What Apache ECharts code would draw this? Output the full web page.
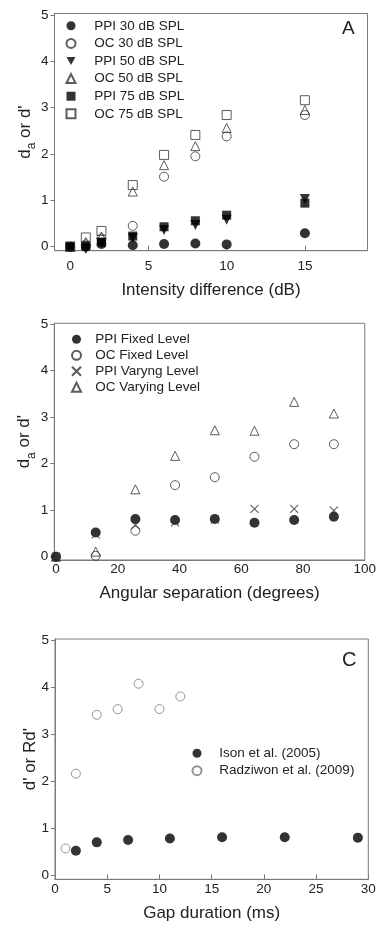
<!DOCTYPE html>
<html>
<head>
<meta charset="utf-8">
<script src="https://cdn.jsdelivr.net/npm/echarts@6/dist/echarts.min.js"></script>
<style>
  html, body { margin: 0; padding: 0; background: #fff; }
  #chart { width: 379px; height: 935px; }
</style>
</head>
<body>
<div id="chart"></div>
<script>
// panel A - intensity difference
const intensityDb = [0, 1, 2, 4, 6, 8, 10, 15];
const ppi30 = [0, 0.0, 0.06, 0.03, 0.06, 0.07, 0.05, 0.29];
const oc30 = [0, 0.05, 0.18, 0.45, 1.51, 1.95, 2.38, 2.84];
const ppi50 = [0, -0.05, 0.08, 0.19, 0.36, 0.47, 0.58, 1.03];
const oc50 = [0, 0.1, 0.22, 1.19, 1.76, 2.17, 2.56, 2.95];
const ppi75 = [0, 0.02, 0.1, 0.23, 0.43, 0.56, 0.68, 0.94];
const oc75 = [0, 0.2, 0.34, 1.33, 1.98, 2.41, 2.84, 3.16];

// panel B - angular separation
const angleDeg = [0, 12.86, 25.71, 38.57, 51.43, 64.29, 77.14, 90];
const ppiFixed = [0, 0.52, 0.81, 0.79, 0.81, 0.73, 0.79, 0.86];
const ocFixed = [0, 0.02, 0.56, 1.54, 1.71, 2.15, 2.42, 2.42];
const ppiVarying = [0, 0.48, 0.68, 0.74, 0.8, 1.03, 1.03, 0.99];
const ocVarying = [0, 0.11, 1.45, 2.17, 2.72, 2.71, 3.33, 3.08];

// panel C - gap duration
const gapIson = [2, 4, 7, 11, 16, 22, 29];
const isonD = [0.52, 0.70, 0.75, 0.78, 0.81, 0.81, 0.80];
const gapRadz = [1, 2, 4, 6, 8, 10, 12];
const radzD = [0.57, 2.16, 3.41, 3.53, 4.07, 3.53, 3.80];

const yTicks = [0, 1, 2, 3, 4, 5];
const ticksA = [0, 5, 10, 15];
const ticksB = [0, 20, 40, 60, 80, 100];
const ticksC = [0, 5, 10, 15, 20, 25, 30];

const FONT = 'Liberation Sans, Arial, sans-serif';
const INK = '#222';
const DOT = '#000';
const FRAME = '#7a7a7a';
const OPEN = '#333';

const pairs = (xs, ys) => xs.map((x, i) => [x, ys[i]]);
const CROSS = 'path://M0,0L10,10M10,0L0,10';
const DOWN_TRI = 'path://M0,0L10,0L5,9Z';

function xAx(grid, min, max, ticks, name, margin, gap, tickLen) {
  return {
    type: 'value', gridIndex: grid, min: min, max: max,
    name: name, nameLocation: 'middle', nameGap: gap,
    nameTextStyle: { fontFamily: FONT, fontSize: 17, color: INK },
    axisLine: { onZero: false, lineStyle: { color: FRAME, width: 1 } },
    axisTick: { show: tickLen > 0, inside: true, length: tickLen, customValues: ticks,
      lineStyle: { color: FRAME } },
    axisLabel: { customValues: ticks, margin: margin, fontFamily: FONT, fontSize: 13.5, color: INK },
    splitLine: { show: false }
  };
}

function yAx(grid, min, max, name, gap) {
  return {
    type: 'value', gridIndex: grid, min: min, max: max,
    name: name, nameLocation: 'middle', nameGap: gap, nameRotate: 90,
    nameMoveOverlap: false,
    nameTextStyle: {
      fontFamily: FONT, fontSize: 17, color: INK,
      rich: {
        d: { fontFamily: FONT, fontSize: 17, lineHeight: 17, color: INK, verticalAlign: 'top' },
        s: { fontFamily: FONT, fontSize: 12, lineHeight: 21, color: INK, verticalAlign: 'bottom' }
      }
    },
    axisLine: { onZero: false, lineStyle: { color: FRAME, width: 1 } },
    axisTick: { show: true, inside: false, length: 4, customValues: yTicks, lineStyle: { color: FRAME } },
    axisLabel: { customValues: yTicks, margin: 6, fontFamily: FONT, fontSize: 13.5, color: INK },
    splitLine: { show: false }
  };
}

function pts(name, xi, yi, data, symbol, size, filled, extra) {
  const s = {
    type: 'scatter', name: name, xAxisIndex: xi, yAxisIndex: yi,
    data: data, symbol: symbol, symbolSize: size,
    itemStyle: filled
      ? { color: DOT, borderWidth: 0 }
      : { color: 'rgba(0,0,0,0)', borderColor: OPEN, borderWidth: 1 },
    emphasis: { disabled: true },
    z: 3
  };
  return Object.assign(s, extra || {});
}

// icon centre cx, text starting at tx
function legend(names, cx, top, tx, rowH) {
  const icon = 9;
  const left = cx - icon / 2;
  return {
    data: names, orient: 'vertical', left: left, top: top, padding: 0,
    itemWidth: icon, itemHeight: icon, itemGap: 0,
    selectedMode: false,
    textStyle: { fontFamily: FONT, fontSize: 13.5, color: INK, lineHeight: rowH,
      padding: [0, 0, 0, tx - (left + icon + 5)] }
  };
}

const chart = echarts.init(document.getElementById('chart'), null, { renderer: 'canvas' });

chart.setOption({
  animation: false,
  backgroundColor: '#fff',
  grid: [
    { left: 54.5, top: 13.5, width: 313, height: 237.2, show: true, borderColor: FRAME, borderWidth: 1, backgroundColor: 'transparent' },
    { left: 54.3, top: 323.3, width: 314, height: 236.7, show: true, borderColor: FRAME, borderWidth: 1, backgroundColor: 'transparent' },
    { left: 55, top: 639, width: 313.3, height: 240.3, show: true, borderColor: FRAME, borderWidth: 1, backgroundColor: 'transparent' }
  ],
  xAxis: [
    xAx(0, -1, 19, ticksA, 'Intensity difference (dB)', 9, 31, 5),
    xAx(1, -0.55, 100, ticksB, 'Angular separation (degrees)', 2, 25, 0),
    xAx(2, 0, 30, ticksC, 'Gap duration (ms)', 3, 26, 5)
  ],
  yAxis: [
    yAx(0, -0.086, 5.03, '{d|d}{s|a}{d| or d\'}', 17),
    yAx(1, -0.07, 5.02, '{d|d}{s|a}{d| or d\'}', 17),
    yAx(2, -0.085, 5.02, 'd\' or Rd\'', 16)
  ],
  legend: [
    legend(['PPI 30 dB SPL', 'OC 30 dB SPL', { name: 'PPI 50 dB SPL', icon: DOWN_TRI }, 'OC 50 dB SPL', 'PPI 75 dB SPL', 'OC 75 dB SPL'], 70, 17, 93.3, 17.6),
    legend(['PPI Fixed Level', 'OC Fixed Level', 'PPI Varyng Level', 'OC Varying Level'], 74, 331.3, 92.7, 16),
    legend(['Ison et al. (2005)', 'Radziwon et al. (2009)'], 196, 744.6, 218.3, 17.4)
  ],
  graphic: [
    { type: 'text', left: 342, top: 19, style: { text: 'A', font: '19px ' + FONT, fill: INK } },
    { type: 'text', left: 342, top: 650, style: { text: 'C', font: '20px ' + FONT, fill: INK } }
  ],
  series: [
    pts('PPI 30 dB SPL', 0, 0, pairs(intensityDb, ppi30), 'circle', 10, true),
    pts('OC 30 dB SPL', 0, 0, pairs(intensityDb, oc30), 'circle', 9, false),
    pts('PPI 50 dB SPL', 0, 0, pairs(intensityDb, ppi50), DOWN_TRI, 10, true),
    pts('OC 50 dB SPL', 0, 0, pairs(intensityDb, oc50), 'triangle', 9, false),
    pts('PPI 75 dB SPL', 0, 0, pairs(intensityDb, ppi75), 'rect', 9, true),
    pts('OC 75 dB SPL', 0, 0, pairs(intensityDb, oc75), 'rect', 9, false),

    pts('PPI Fixed Level', 1, 1, pairs(angleDeg, ppiFixed), 'circle', 10, true),
    pts('OC Fixed Level', 1, 1, pairs(angleDeg, ocFixed), 'circle', 9, false),
    pts('PPI Varyng Level', 1, 1, pairs(angleDeg, ppiVarying), CROSS, 8, false, {
      itemStyle: { color: 'none', borderColor: OPEN, borderWidth: 1.1 }
    }),
    pts('OC Varying Level', 1, 1, pairs(angleDeg, ocVarying), 'triangle', 9, false),

    pts('Ison et al. (2005)', 2, 2, pairs(gapIson, isonD), 'circle', 10, true),
    pts('Radziwon et al. (2009)', 2, 2, pairs(gapRadz, radzD), 'circle', 9, false, {
      itemStyle: { color: 'rgba(0,0,0,0)', borderColor: '#7a7a7a', borderWidth: 1 }
    })
  ]
});
</script>
</body>
</html>
